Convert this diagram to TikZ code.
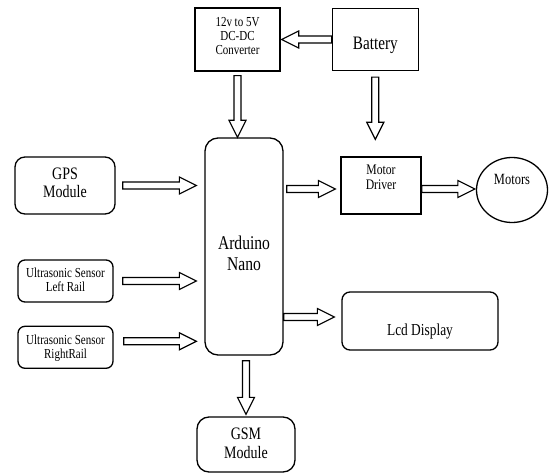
\documentclass[tikz,border=0pt]{standalone}
\usepackage{fontspec}
\setmainfont[FakeStretch=0.8]{Liberation Serif}
\usetikzlibrary{positioning,calc,shapes.geometric}
\newcommand{\blocktext}[2]{\raisebox{#1}[0pt][0pt]{\begin{tabular}[b]{@{}c@{}}#2\end{tabular}}}

\begin{document}
\begin{tikzpicture}[x=1pt,y=-1pt,
  block/.style={draw,line width=1.3pt,inner sep=0pt},
  roundblock/.style={block,rounded corners=#1},
  roundblock/.default=10pt,
  fatarrow/.style 2 args={draw,line width=1.2pt,fill=white,
    to path={let \p1=($(\tikztostart)!#1!(\tikztotarget)$),
                 \p2=($(\tikztotarget)!#2!(\tikztostart)$),
                 \p3=($(\p2)!17pt!(\p1)$) in
      ($(\p1)!3.5pt!90:(\p2)$) -- ($(\p3)!3.5pt!-90:(\p1)$) -- ($(\p3)!8.5pt!-90:(\p1)$)
      -- (\p2) -- ($(\p3)!8.5pt!90:(\p1)$) -- ($(\p3)!3.5pt!90:(\p1)$)
      -- ($(\p1)!3.5pt!-90:(\p2)$) -- cycle}}]
\useasboundingbox (0,0) rectangle (549,473);

\node[block,minimum width=85pt,minimum height=63pt,font=\fontsize{13.75}{14.2}\selectfont] (conv) at (237.5,39.5) {\blocktext{-15.5pt}{12v to 5V\\DC-DC\\Converter}};
\node[block,minimum width=86pt,minimum height=62pt,font=\fontsize{19}{22}\selectfont] (batt) [right=51pt of conv] {\blocktext{-10pt}{Battery}};

\node[roundblock=13pt,minimum width=78pt,minimum height=217pt,font=\fontsize{19.5}{20.7}\selectfont] (ard) at (244,246.5) {\blocktext{-23.5pt}{Arduino\\Nano}};

\node[roundblock=10pt,minimum width=100pt,minimum height=57pt,font=\fontsize{17.5}{18.5}\selectfont] (gps) at (65,185.5) {\blocktext{-12.5pt}{GPS\\Module}};
\node[roundblock=7pt,minimum width=95pt,minimum height=42pt,font=\fontsize{13.75}{14}\selectfont] (usl) at (65.5,281) {\blocktext{-10pt}{Ultrasonic Sensor\\Left Rail}};
\node[roundblock=7pt,minimum width=95pt,minimum height=42pt,font=\fontsize{13.75}{14}\selectfont] (usr) [below=23pt of usl] {\blocktext{-11pt}{Ultrasonic Sensor\\RightRail}};

\node[block,minimum width=80pt,minimum height=57pt,font=\fontsize{14.6}{15}\selectfont] (md) at (381,185.5) {\blocktext{-4.5pt}{Motor\\Driver}};
\node[block,ellipse,minimum width=71pt,minimum height=65pt,font=\fontsize{15.6}{17}\selectfont] (mot) at (512,190) {\blocktext{5pt}{Motors}};
\node[roundblock=8pt,minimum width=156pt,minimum height=58pt,font=\fontsize{16.75}{18}\selectfont] (lcd) at (420,321) {\blocktext{-14pt}{Lcd Display}};
\node[roundblock=12pt,minimum width=98pt,minimum height=55pt,font=\fontsize{17.5}{18.5}\selectfont] (gsm) at (246,444.5) {\blocktext{-13.5pt}{GSM\\Module}};

\coordinate (usr-out) at ([yshift=6pt]usr.east);
\coordinate (md-in) at ([yshift=-3.5pt]md.west);
\coordinate (md-out) at ([yshift=-3.5pt]md.east);
\coordinate (lcd-in) at ([yshift=4pt]lcd.west);

\path
  (batt.west) edge[fatarrow={0pt}{1pt}] (batt.west -| conv.east)
  (conv.south) edge[fatarrow={4pt}{0pt}] (conv.south |- ard.north)
  (batt.south) edge[fatarrow={6pt}{17pt}] (batt.south |- md.north);
\path
  (gps.east) edge[fatarrow={7pt}{8pt}] (gps.east -| ard.west)
  (usl.east) edge[fatarrow={9pt}{8pt}] (usl.east -| ard.west)
  (usr-out) edge[fatarrow={10pt}{8pt}] (usr-out -| ard.west)
  (md-in -| ard.east) edge[fatarrow={3pt}{5pt}] (md-in)
  (md-out) edge[fatarrow={0pt}{1pt}] (md-out -| mot.west)
  (lcd-in -| ard.east) edge[fatarrow={0pt}{7pt}] (lcd-in)
  (gsm.north |- ard.south) edge[fatarrow={5pt}{2pt}] (gsm.north);
\end{tikzpicture}
\end{document}
